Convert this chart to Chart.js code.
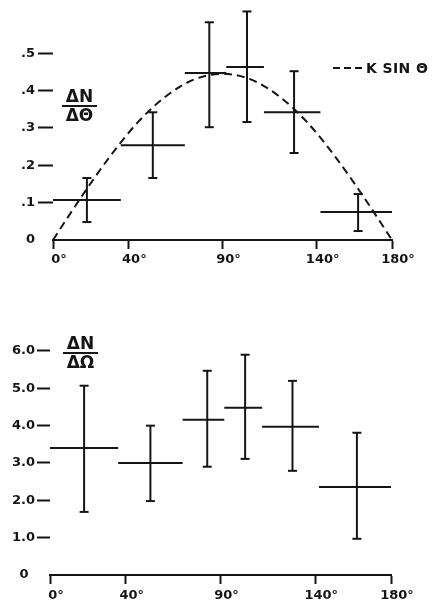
<!DOCTYPE html>
<html>
<head>
<meta charset="utf-8">
<title>ΔN/Δθ and ΔN/ΔΩ</title>
<script src="https://cdn.jsdelivr.net/npm/chart.js@4"></script>
<style>
  body {
    margin: 0;
    background: #fff;
    width: 435px;
    height: 609px;
    position: relative;
    overflow: hidden;
    font-family: "DejaVu Sans", sans-serif;
    font-weight: bold;
    color: #151515;
  }
  canvas { position: absolute; left: 0; }
  #top-chart { top: -20px; }
  #bottom-chart { top: 300px; }

  /* stacked fraction used as y-axis title */
  .frac {
    position: absolute;
    width: 35px;
    text-align: center;
    font-size: 17px;
  }
  .frac span { display: block; line-height: 15px; }
  .frac .rule { height: 2px; background: #151515; margin: 1px 0; }

  .key-line {
    position: absolute;
    left: 333px;
    top: 67px;
    width: 30px;
    height: 2px;
    background: repeating-linear-gradient(to right, #151515 0 7px, transparent 7px 11px);
  }
  .key-text {
    position: absolute;
    left: 366px;
    top: 60px;
    font-size: 14px;
    line-height: 16px;
    letter-spacing: 0.4px;
  }
</style>
</head>
<body>

<canvas id="top-chart" width="435" height="320"></canvas>
<canvas id="bottom-chart" width="435" height="309"></canvas>

<div class="frac" style="left:62px; top:89px;">
  <span>ΔN</span><span class="rule"></span><span>ΔΘ</span>
</div>
<div class="frac" style="left:63px; top:336px;">
  <span>ΔN</span><span class="rule"></span><span>ΔΩ</span>
</div>

<div class="key-line"></div>
<div class="key-text">K SIN Θ</div>

<script>
// angular bins in degrees, same for both panels
const binLow = [0, 36, 70, 92, 112, 142];
const binHigh = [36, 70, 92, 112, 142, 180];
const binMid = [18, 53, 83, 103, 128, 162];

// ΔN/Δθ per bin, with lower and upper error limits
const dNdTheta = [0.107, 0.254, 0.447, 0.463, 0.342, 0.075];
const dNdThetaLow = [0.048, 0.166, 0.302, 0.316, 0.233, 0.024];
const dNdThetaHigh = [0.166, 0.342, 0.583, 0.612, 0.452, 0.123];

const curveAngle = [0, 15, 30, 45, 60, 75, 90, 105, 120, 135, 150, 165, 180];
const curveValue = [0, 0.115, 0.222, 0.315, 0.385, 0.43, 0.445, 0.43, 0.385, 0.315, 0.222, 0.115, 0];

// ΔN/ΔΩ per bin, with lower and upper error limits
const dNdOmega = [3.40, 3.00, 4.16, 4.48, 3.97, 2.36];
const dNdOmegaLow = [1.69, 1.98, 2.90, 3.11, 2.79, 0.97];
const dNdOmegaHigh = [5.07, 4.00, 5.47, 5.90, 5.20, 3.81];

// axis ticks
const xTickValues = [0, 40, 90, 140, 180];
const xTickLabels = ["0°", "40°", "90°", "140°", "180°"];
const thetaTickValues = [0, 0.1, 0.2, 0.3, 0.4, 0.5];
const thetaTickLabels = ["0", ".1", ".2", ".3", ".4", ".5"];
const omegaTickValues = [0, 1, 2, 3, 4, 5, 6];
const omegaTickLabels = ["0\u2002", "1.0", "2.0", "3.0", "4.0", "5.0", "6.0"];

const INK = "#151515";
const FONT = { family: "'DejaVu Sans', sans-serif", size: 13, weight: "bold" };

// one horizontal bar (bin width) plus one capped vertical bar (error) per bin
function crossDatasets(values, lows, highs) {
  const sets = [];
  values.forEach((v, i) => {
    sets.push({
      data: [{ x: binLow[i], y: v }, { x: binHigh[i], y: v }],
      borderColor: INK,
      borderWidth: 2,
      pointRadius: 0,
    });
    sets.push({
      data: [{ x: binMid[i], y: lows[i] }, { x: binMid[i], y: highs[i] }],
      borderColor: INK,
      borderWidth: 2,
      pointStyle: "line",
      pointRadius: 4.5,
      pointBorderWidth: 2,
      pointBorderColor: INK,
    });
  });
  return sets;
}

function fixedTicks(values) {
  return (scale) => {
    scale.ticks = values.map((v) => ({ value: v }));
  };
}

function xScale(labelPadding) {
  return {
    type: "linear",
    min: 0,
    max: 180,
    afterBuildTicks: fixedTicks(xTickValues),
    afterFit: (scale) => { scale.height = 30; },
    border: { display: true, color: INK, width: 2 },
    grid: {
      drawOnChartArea: false,
      drawTicks: true,
      tickLength: 9,
      tickWidth: 2,
      tickColor: INK,
      color: INK,
    },
    ticks: {
      color: INK,
      font: FONT,
      padding: labelPadding,
      labelOffset: 6,
      maxRotation: 0,
      autoSkip: false,
      callback: (value, index) => xTickLabels[index],
    },
  };
}

function yScale(max, tickValues, tickLabels, width, tickLength, padding) {
  return {
    type: "linear",
    min: 0,
    max: max,
    afterBuildTicks: fixedTicks(tickValues),
    afterFit: (scale) => { scale.width = width; },
    border: { display: false },
    grid: {
      drawOnChartArea: false,
      drawTicks: true,
      tickLength: tickLength,
      tickWidth: 2,
      // no dash next to the zero label
      tickColor: (ctx) => (ctx.tick && ctx.tick.value === 0 ? "rgba(0,0,0,0)" : INK),
    },
    ticks: {
      color: INK,
      font: FONT,
      padding: padding,
      autoSkip: false,
      callback: (value, index) => tickLabels[index],
    },
  };
}

function makeChart(id, datasets, scales, padding) {
  return new Chart(document.getElementById(id), {
    type: "scatter",
    data: { datasets: datasets },
    options: {
      responsive: false,
      animation: false,
      devicePixelRatio: 1,
      events: [],
      showLine: true,
      layout: { padding: padding },
      plugins: {
        legend: { display: false },
        tooltip: { enabled: false },
      },
      elements: { line: { borderCapStyle: "butt" } },
      scales: scales,
    },
  });
}

// upper panel: ΔN/Δθ with dashed K sin θ
const curve = {
  data: curveAngle.map((a, i) => ({ x: a, y: curveValue[i] })),
  borderColor: INK,
  borderWidth: 2,
  borderDash: [8, 5],
  pointRadius: 0,
  cubicInterpolationMode: "monotone",
};

makeChart(
  "top-chart",
  [curve, ...crossDatasets(dNdTheta, dNdThetaLow, dNdThetaHigh)].map((d) => ({ ...d, clip: false })),
  { x: xScale(3), y: yScale(0.64, thetaTickValues, thetaTickLabels, 53, 15, 3) },
  { top: 21, right: 43, bottom: 30, left: 0 }
);

// lower panel: ΔN/ΔΩ
makeChart(
  "bottom-chart",
  crossDatasets(dNdOmega, dNdOmegaLow, dNdOmegaHigh).map((d) => ({ ...d, clip: false })),
  { x: xScale(4), y: yScale(6.83, omegaTickValues, omegaTickLabels, 50, 13, 2) },
  { top: 20, right: 44, bottom: 4, left: 0 }
);
</script>
</body>
</html>
